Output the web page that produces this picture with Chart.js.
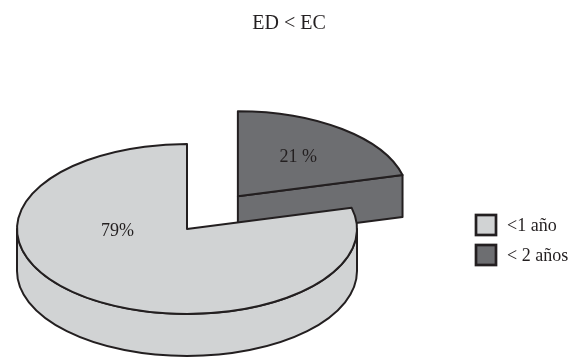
<!DOCTYPE html>
<html>
<head>
<meta charset="utf-8">
<script src="https://cdn.jsdelivr.net/npm/chart.js@4.4.1/dist/chart.umd.min.js"></script>
<style>
  html, body { margin: 0; padding: 0; background: #ffffff; }
  #wrap { width: 580px; height: 360px; }
</style>
</head>
<body>
<div id="wrap"><canvas id="chart" width="580" height="360"></canvas></div>
<script>
// Chart content
const chartTitle = 'ED < EC';
const categories = ['<1 año', '< 2 años'];
const values = [79, 21];
const valueLabels = ['79%', '21 %'];

// Look of the 3D pie
const sliceColors = ['#d1d3d4', '#6d6e71'];
const INK = '#231f20';
const SERIF = '"Liberation Serif", "Times New Roman", Times, serif';
const TILT = 0.5;          // vertical squash of the pie disc
const DEPTH = 42;          // thickness of the disc in pixels
const EXPLODE = [0, 83];   // pull-out distance of each slice
const LABEL_PLACE = [{ angle: 177, dist: 0.41 }, { angle: null, dist: 0.58 }];
const TITLE = { x: 289, y: 29, font: 20 };
const LEGEND = { x: 476, y: 215, box: 20, row: 30, gap: 11, font: 18 };

const TAU = Math.PI * 2;

// Draws the pie as an extruded, tilted disc using the arc geometry
// computed by Chart.js (centre, radius, start/end angles).
const pie3d = {
  id: 'pie3d',
  beforeDatasetsDraw(chart) {
    const ctx = chart.ctx;
    const meta = chart.getDatasetMeta(0);
    const colors = chart.data.datasets[0].backgroundColor;

    const slices = meta.data.map((arc, i) => {
      const p = arc.getProps(['x', 'y', 'startAngle', 'endAngle', 'outerRadius'], true);
      const mid = (p.startAngle + p.endAngle) / 2;
      const ex = EXPLODE[i] || 0;
      return {
        i, a0: p.startAngle, a1: p.endAngle, mid,
        cx: p.x + Math.cos(mid) * ex,
        cy: p.y + Math.sin(mid) * ex * TILT,
        rx: p.outerRadius, ry: p.outerRadius * TILT,
        color: colors[i]
      };
    });

    ctx.save();
    ctx.lineWidth = 2;
    ctx.strokeStyle = INK;
    ctx.lineJoin = 'round';

    // slices further back are painted first
    const order = slices.slice().sort((s, t) => s.cy - t.cy);
    for (const s of order) {
      ctx.fillStyle = s.color;

      // curved outer wall, front half only
      for (let k = -1; k <= 1; k++) {
        const lo = Math.max(s.a0, TAU * k);
        const hi = Math.min(s.a1, Math.PI + TAU * k);
        if (hi - lo > 1e-6) {
          ctx.beginPath();
          ctx.ellipse(s.cx, s.cy, s.rx, s.ry, 0, lo, hi);
          ctx.ellipse(s.cx, s.cy + DEPTH, s.rx, s.ry, 0, hi, lo, true);
          ctx.closePath();
          ctx.fill();
          ctx.stroke();
        }
      }

      // flat side faces that turn towards the viewer
      const face = (t) => {
        const px = s.cx + s.rx * Math.cos(t);
        const py = s.cy + s.ry * Math.sin(t);
        ctx.beginPath();
        ctx.moveTo(s.cx, s.cy);
        ctx.lineTo(px, py);
        ctx.lineTo(px, py + DEPTH);
        ctx.lineTo(s.cx, s.cy + DEPTH);
        ctx.closePath();
        ctx.fill();
        ctx.stroke();
      };
      if (Math.cos(s.a0) < -1e-6) face(s.a0);
      if (Math.cos(s.a1) > 1e-6) face(s.a1);

      // top face
      ctx.beginPath();
      ctx.moveTo(s.cx, s.cy);
      ctx.ellipse(s.cx, s.cy, s.rx, s.ry, 0, s.a0, s.a1);
      ctx.closePath();
      ctx.fill();
      ctx.stroke();
    }

    // value labels on the top faces
    ctx.fillStyle = INK;
    ctx.font = '18px ' + SERIF;
    ctx.textAlign = 'center';
    ctx.textBaseline = 'middle';
    for (const s of slices) {
      const place = LABEL_PLACE[s.i];
      const ang = place.angle === null ? s.mid : place.angle * Math.PI / 180;
      const lx = s.cx + Math.cos(ang) * s.rx * place.dist;
      const ly = s.cy + Math.sin(ang) * s.ry * place.dist;
      ctx.fillText(valueLabels[s.i], lx, ly);
    }
    ctx.restore();
    return false; // the flat arcs are replaced by the drawing above
  },
  afterDraw(chart) {
    const ctx = chart.ctx;
    const colors = chart.data.datasets[0].backgroundColor;
    ctx.save();
    // title
    ctx.fillStyle = INK;
    ctx.font = TITLE.font + 'px ' + SERIF;
    ctx.textAlign = 'center';
    ctx.textBaseline = 'alphabetic';
    ctx.fillText(chartTitle, TITLE.x, TITLE.y);

    // legend
    ctx.font = LEGEND.font + 'px ' + SERIF;
    ctx.textAlign = 'left';
    ctx.textBaseline = 'middle';
    chart.data.labels.forEach((label, i) => {
      const y = LEGEND.y + i * LEGEND.row;
      ctx.fillStyle = colors[i];
      ctx.fillRect(LEGEND.x, y, LEGEND.box, LEGEND.box);
      ctx.lineWidth = 2.7;
      ctx.strokeStyle = INK;
      ctx.strokeRect(LEGEND.x, y, LEGEND.box, LEGEND.box);
      ctx.fillStyle = INK;
      ctx.fillText(label, LEGEND.x + LEGEND.box + LEGEND.gap, y + LEGEND.box / 2 + 1);
    });
    ctx.restore();
  }
};

const total = values.reduce((a, b) => a + b, 0);

new Chart(document.getElementById('chart'), {
  type: 'pie',
  data: {
    labels: categories,
    datasets: [{
      data: values,
      backgroundColor: sliceColors,
      borderColor: INK,
      borderWidth: 0
    }]
  },
  options: {
    responsive: false,
    animation: false,
    devicePixelRatio: 1,
    radius: 170,
    // first slice starts where the pulled-out slice ends
    rotation: values[1] / total * 360,
    layout: { padding: { left: 0, right: 206, top: 98, bottom: 0 } },
    plugins: {
      legend: { display: false },
      title: { display: false },
      tooltip: { enabled: false }
    },
    events: []
  },
  plugins: [pie3d]
});
</script>
</body>
</html>
